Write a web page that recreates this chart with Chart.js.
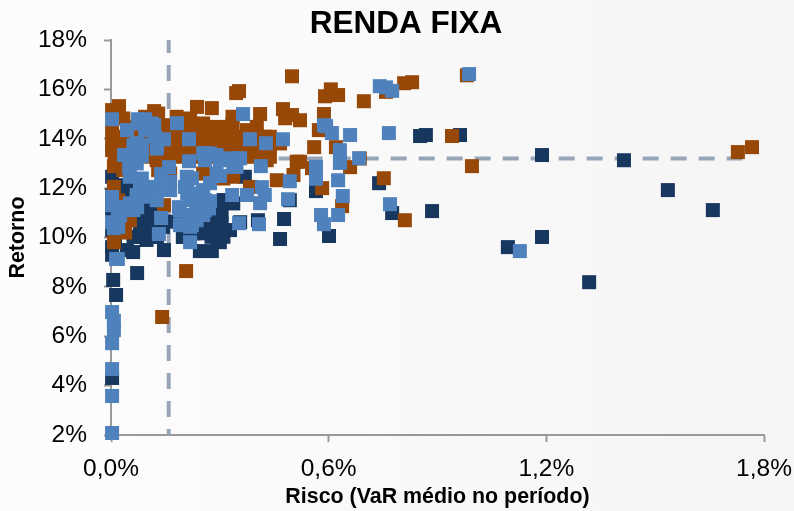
<!DOCTYPE html>
<html>
<head>
<meta charset="utf-8">
<title>Renda Fixa</title>
<script src="https://cdn.jsdelivr.net/npm/chart.js@4/dist/chart.umd.min.js"></script>
<style>
  html, body { margin: 0; padding: 0; }
  body { width: 794px; height: 511px; overflow: hidden; background: linear-gradient(90deg, #fdfdfd, #f5f5f6); }
  #box { width: 794px; height: 511px; position: relative; }
</style>
</head>
<body>
<div id="box"><canvas id="chart"></canvas></div>
<script>
const xTicks = [0, 0.6, 1.2, 1.8];
const yTicks = [2, 4, 6, 8, 10, 12, 14, 16, 18];

// [risco, retorno]
const navy = [
  [0.962,14.15],[0.868,14.15],[0.852,14.11],[0.739,12.2],[0.565,11.88],[0.775,10.99],[0.885,11.07],[0.601,10.06],[1.094,9.61],
  [1.188,13.34],[1.414,13.13],[1.535,11.92],[1.659,11.11],[1.188,10.02],[1.318,8.19],
  [0.003,4.31],[0.006,8.28],[0.014,7.67],[0.072,8.56],[0.466,9.94],[0.146,9.49],[0.061,9.41],[0.245,9.45],[0.278,9.45],[0.3,9.81],
  [0.08,10.02],[0.127,10.02],[0.198,10.02],[0.254,10.18],[0.292,10.02],[0.003,9.61],[0.003,9.3],[0.044,9.49],
  [0.089,10.57],[0.126,10.57],[0.08,10.17],[0.282,10.57],[0.305,10.57],[0.328,10.3],[0.3,10.17],[0.264,10.43],[0.163,10.64],
  [0.003,11.11],[0.003,10.3],[0.043,12.05],[0.003,12.46],[0.003,11.7],[0.314,11.51],[0.493,11.51],[0.369,12.46],[0.477,10.75],
  [0.405,10.7],[0.356,10.62],[0.107,11.24],[0.098,10.3],[0.209,10.43],[0.062,10.03],[0.227,10.17],[0.011,10.03],[0.31,11.51],
  [0.034,11.78],[0.277,10.03],[0.31,10.03],[0.144,10.43],
  [0.039,12.12],[0.089,10.84],[0.117,11.11],[0.337,11.38],[0.199,10.91],[0.245,10.17],[0.273,10.84],[0.305,10.97],[0.098,9.9]
];
const brown = [
  [0.981,16.57],[0.808,16.25],[0.83,16.29],[0.758,15.9],[0.606,16.0],[0.59,15.72],[0.626,15.77],[0.697,15.52],[0.587,15.0],
  [0.521,14.75],[0.573,14.35],[0.56,13.66],[0.62,13.66],[0.94,14.11],[0.995,12.89],[0.659,12.85],[0.686,13.2],[0.554,12.81],
  [0.521,13.07],[0.752,12.4],[0.582,12.0],[0.637,11.27],[0.81,10.7],[1.728,13.46],[1.767,13.66],
  [0.499,16.53],[0.353,15.93],[0.345,15.85],[0.022,15.32],[0.119,15.12],[0.207,8.64],[0.141,6.78],[0.008,9.81],[0.039,10.2],
  [0.003,15.16],[0.011,14.89],[0.034,14.82],[0.003,14.35],[0.003,13.81],[0.003,13.54],[0.034,13.81],[0.008,12.89],[0.034,12.73],
  [0.094,14.89],[0.13,15.02],[0.153,14.55],[0.181,14.89],[0.218,14.82],[0.237,15.29],[0.278,15.24],[0.254,14.62],[0.277,14.39],
  [0.296,14.35],[0.335,14.62],[0.335,14.89],[0.374,14.35],[0.411,15.0],[0.474,15.2],[0.48,14.83],[0.499,14.96],[0.328,14.11],
  [0.346,14.08],[0.424,14.08],[0.466,13.81],[0.512,13.07],[0.503,12.53],[0.457,12.32],[0.429,13.13],[0.337,13.54],[0.31,13.67],
  [0.236,13.81],[0.181,13.4],[0.163,13.4],[0.126,13.13],[0.13,12.73],[0.163,12.59],[0.254,12.59],[0.31,12.39],[0.337,12.46],
  [0.146,11.31],[0.383,12.05],[0.052,10.7],[0.034,10.3],[0.008,12.05],[0.02,11.5],
  [0.071,14.48],[0.107,14.48],[0.144,14.48],[0.181,14.48],[0.218,14.48],[0.254,14.48],[0.291,14.48],[0.328,14.48],[0.402,14.48],
  [0.034,14.08],[0.071,14.08],[0.107,14.08],[0.144,14.08],[0.181,14.08],[0.218,14.08],[0.254,14.08],[0.291,14.08],[0.365,14.08],[0.402,14.08],[0.438,14.08],
  [0.034,13.67],[0.071,13.67],[0.107,13.67],[0.144,13.67],[0.181,13.67],[0.218,13.67],[0.254,13.67],[0.291,13.67],[0.365,13.67],[0.402,13.67],[0.438,13.67],
  [0.01,13.27],[0.034,13.27],[0.071,13.27],[0.107,13.27],[0.144,13.27],[0.181,13.27],[0.218,13.27],[0.254,13.27],[0.291,13.27],[0.328,13.27],[0.365,13.27],[0.402,13.27],[0.438,13.27]
];
const blue = [
  [0.987,16.62],[0.741,16.13],[0.758,16.08],[0.775,15.94],[0.587,14.55],[0.593,14.51],[0.609,14.23],[0.659,14.15],[0.766,14.23],
  [0.631,13.54],[0.631,13.02],[0.684,13.21],[0.565,12.86],[0.565,12.38],[0.626,12.32],[0.639,11.68],[0.769,11.35],[0.579,10.91],
  [0.626,10.91],[0.587,10.54],[1.127,9.45],
  [0.003,14.79],[0.364,15.0],[0.182,14.63],[0.094,14.79],[0.074,14.79],[0.119,14.55],[0.044,14.35],[0.146,13.98],[0.215,13.98],
  [0.383,13.98],[0.427,13.82],[0.474,13.98],[0.072,13.82],[0.127,13.74],[0.036,13.34],[0.085,13.3],[0.215,13.09],[0.259,13.42],
  [0.259,13.13],[0.291,13.34],[0.319,13.2],[0.356,13.21],[0.346,12.86],[0.413,12.89],[0.05,12.85],[0.16,12.85],[0.138,12.57],
  [0.223,12.4],[0.3,12.49],[0.273,12.2],[0.493,12.28],[0.416,12.04],[0.334,11.72],[0.375,11.72],[0.424,11.72],[0.488,11.55],
  [0.411,11.39],[0.003,11.64],[0.003,11.31],[0.08,12.12],[0.163,11.92],[0.107,11.65],[0.071,11.72],[0.163,12.26],[0.126,11.51],
  [0.21,12.12],[0.21,11.8],[0.236,11.78],[0.05,11.23],[0.072,11.23],[0.187,11.23],[0.273,11.47],[0.245,11.19],[0.27,11.18],
  [0.236,11.38],[0.034,11.24],[0.254,10.91],[0.019,10.91],[0.003,10.62],[0.008,10.38],[0.138,10.79],[0.193,10.54],[0.223,10.5],
  [0.353,10.58],[0.408,10.54],[0.132,10.14],[0.218,9.81],
  [0.014,9.13],[0.019,9.13],[0.003,6.98],[0.008,6.62],[0.008,6.25],[0.003,5.72],[0.003,4.67],[0.003,3.58],[0.003,2.08],
  [0.112,14.62],[0.08,14.62],[0.094,14.35],[0.121,14.08],[0.062,13.74],[0.085,13.74],[0.126,13.6],[0.052,13.2],[0.071,13.0],
  [0.052,12.46],[0.085,12.39],[0.089,12.05],[0.126,12.05],[0.071,11.65],[0.052,11.38],[0.209,12.46],[0.204,12.05],[0.254,11.92],
  [0.218,11.51],[0.259,11.51],[0.254,13.4],[0.273,13.4],[0.3,13.13],[0.337,13.2],[0.291,12.59],[0.337,12.86],[0.062,11.11],
  [0.025,10.91],[0.02,10.43],[0.19,11.11],[0.218,10.91],[0.236,11.11],[0.259,11.11],[0.236,10.7],[0.218,10.43],[0.19,10.5]
];
const riskLine = [[0.159,18],[0.159,2]];
const returnLine = [[0.159,13.2],[1.74,13.2]];

function toXY(list) {
  return list.map(p => ({ x: p[0], y: p[1] }));
}

function squares(list, color) {
  return {
    data: toXY(list),
    showLine: false,
    pointStyle: 'rect',
    pointRadius: 9.9,
    pointHoverRadius: 9.9,
    pointBorderWidth: 0,
    pointBackgroundColor: color,
    clip: false
  };
}

function dashed(list, offset) {
  return {
    data: toXY(list),
    showLine: true,
    pointRadius: 0,
    borderColor: '#98a5b9',
    borderWidth: 4,
    borderDash: [16, 12],
    borderDashOffset: offset,
    clip: false
  };
}

const fontName = '"Liberation Sans", Arial, sans-serif';
const tickFont = { family: fontName, size: 24.5 };
const titleFont = { family: fontName, size: 21.4, weight: 'bold' };

new Chart(document.getElementById('chart'), {
  type: 'scatter',
  data: {
    // first dataset ends up on top
    datasets: [
      squares(blue, '#4F81BD'),
      squares(brown, '#974706'),
      squares(navy, '#17375E'),
      dashed(returnLine, 2),
      dashed(riskLine, 3)
    ]
  },
  options: {
    responsive: true,
    maintainAspectRatio: false,
    animation: false,
    layout: { padding: { left: 30, right: 12, top: 0, bottom: 0 } },
    plugins: {
      legend: { display: false },
      tooltip: { enabled: false },
      title: {
        display: true,
        text: 'RENDA FIXA',
        color: '#000',
        font: { family: fontName, size: 31.5, weight: 'bold' },
        padding: { top: 5, bottom: -2.8 }
      }
    },
    scales: {
      x: {
        type: 'linear',
        min: 0,
        max: 1.8,
        afterBuildTicks: axis => { axis.ticks = xTicks.map(v => ({ value: v })); },
        afterFit: axis => { axis.height = 76; axis.paddingRight = 30; axis.paddingLeft = 0; },
        ticks: {
          color: '#000',
          font: tickFont,
          padding: 13,
          maxRotation: 0,
          callback: v => v.toFixed(1).replace('.', ',') + '%'
        },
        grid: { drawOnChartArea: false, drawTicks: true, tickLength: 7, tickColor: '#999', tickWidth: 2 },
        border: { color: '#999', width: 2 },
        title: { display: true, text: 'Risco (VaR médio no período)', color: '#000', font: titleFont, padding: { top: 0, bottom: 1 } }
      },
      y: {
        min: 2,
        max: 18,
        afterBuildTicks: axis => { axis.ticks = yTicks.map(v => ({ value: v })); },
        afterFit: axis => { axis.width = 81; },
        ticks: {
          color: '#000',
          font: tickFont,
          padding: 17,
          callback: v => v + '%'
        },
        grid: { drawOnChartArea: false, drawTicks: true, tickLength: 7, tickColor: '#999', tickWidth: 2 },
        border: { color: '#999', width: 2 },
        title: { display: true, text: 'Retorno', color: '#000', font: titleFont, padding: { top: -24.6, bottom: 0 } }
      }
    }
  }
});
</script>
</body>
</html>
